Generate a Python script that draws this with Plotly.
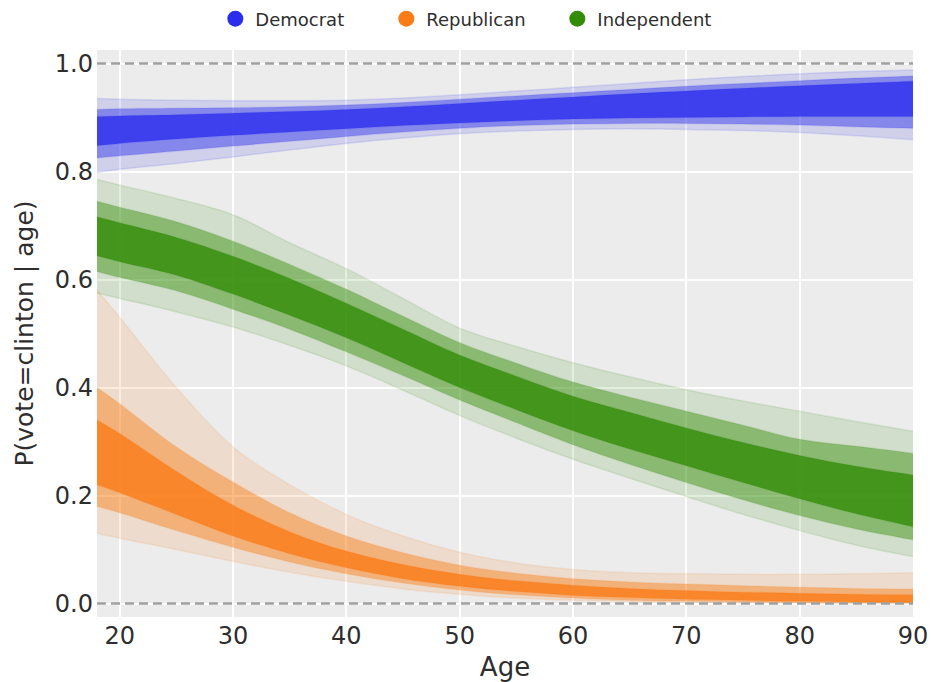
import plotly.graph_objects as go

ages = [18, 20, 25, 30, 35, 40, 45, 50, 55, 60, 65, 70, 75, 80, 85, 90]

# Democrat bands: faint outer envelope, medium band, dense core
dem_outer_lo = [0.798, 0.804, 0.815, 0.827, 0.840, 0.852, 0.862, 0.870, 0.875, 0.878, 0.879, 0.878, 0.876, 0.872, 0.866, 0.859]
dem_mid_lo   = [0.825, 0.829, 0.838, 0.847, 0.856, 0.865, 0.873, 0.880, 0.885, 0.888, 0.889, 0.889, 0.888, 0.886, 0.883, 0.880]
dem_core_lo  = [0.848, 0.852, 0.860, 0.867, 0.873, 0.879, 0.885, 0.890, 0.894, 0.897, 0.899, 0.900, 0.901, 0.902, 0.902, 0.902]
dem_core_hi  = [0.902, 0.903, 0.905, 0.908, 0.911, 0.915, 0.920, 0.926, 0.932, 0.938, 0.944, 0.949, 0.954, 0.959, 0.963, 0.967]
dem_mid_hi   = [0.915, 0.916, 0.917, 0.918, 0.920, 0.923, 0.928, 0.934, 0.940, 0.946, 0.952, 0.958, 0.963, 0.968, 0.973, 0.977]
dem_outer_hi = [0.935, 0.934, 0.932, 0.931, 0.931, 0.932, 0.936, 0.942, 0.949, 0.956, 0.963, 0.970, 0.976, 0.981, 0.985, 0.988]

# Republican bands
rep_outer_lo = [0.130, 0.121, 0.100, 0.078, 0.058, 0.041, 0.027, 0.017, 0.010, 0.006, 0.004, 0.002, 0.001, 0.001, 0.000, 0.000]
rep_mid_lo   = [0.180, 0.168, 0.135, 0.104, 0.077, 0.055, 0.038, 0.025, 0.016, 0.010, 0.006, 0.004, 0.003, 0.002, 0.001, 0.001]
rep_core_lo  = [0.220, 0.205, 0.165, 0.125, 0.092, 0.066, 0.046, 0.032, 0.022, 0.015, 0.011, 0.008, 0.006, 0.004, 0.003, 0.002]
rep_core_hi  = [0.340, 0.315, 0.245, 0.182, 0.133, 0.097, 0.072, 0.054, 0.042, 0.034, 0.028, 0.024, 0.021, 0.019, 0.017, 0.016]
rep_mid_hi   = [0.400, 0.370, 0.290, 0.225, 0.168, 0.125, 0.094, 0.071, 0.056, 0.046, 0.040, 0.036, 0.033, 0.030, 0.028, 0.027]
rep_outer_hi = [0.580, 0.530, 0.400, 0.290, 0.220, 0.165, 0.125, 0.095, 0.075, 0.063, 0.057, 0.055, 0.054, 0.054, 0.055, 0.057]

# Independent bands
ind_outer_lo = [0.575, 0.565, 0.540, 0.512, 0.478, 0.440, 0.395, 0.348, 0.306, 0.267, 0.232, 0.198, 0.165, 0.135, 0.108, 0.087]
ind_mid_lo   = [0.615, 0.604, 0.579, 0.545, 0.508, 0.466, 0.422, 0.377, 0.335, 0.294, 0.258, 0.224, 0.192, 0.163, 0.138, 0.118]
ind_core_lo  = [0.644, 0.633, 0.608, 0.573, 0.534, 0.492, 0.446, 0.400, 0.359, 0.320, 0.286, 0.255, 0.224, 0.194, 0.166, 0.142]
ind_core_hi  = [0.716, 0.705, 0.678, 0.643, 0.602, 0.556, 0.508, 0.460, 0.421, 0.384, 0.354, 0.325, 0.298, 0.274, 0.254, 0.238]
ind_mid_hi   = [0.745, 0.734, 0.707, 0.671, 0.628, 0.582, 0.532, 0.483, 0.445, 0.410, 0.382, 0.356, 0.330, 0.304, 0.291, 0.278]
ind_outer_hi = [0.785, 0.775, 0.750, 0.720, 0.668, 0.620, 0.565, 0.510, 0.476, 0.446, 0.420, 0.396, 0.375, 0.356, 0.337, 0.319]

parties = ["Democrat", "Republican", "Independent"]
colors = {"Democrat": (42, 46, 236), "Republican": (250, 124, 23), "Independent": (50, 140, 6)}
bands = {
    "Democrat": [(dem_outer_lo, dem_outer_hi), (dem_mid_lo, dem_mid_hi), (dem_core_lo, dem_core_hi)],
    "Republican": [(rep_outer_lo, rep_outer_hi), (rep_mid_lo, rep_mid_hi), (rep_core_lo, rep_core_hi)],
    "Independent": [(ind_outer_lo, ind_outer_hi), (ind_mid_lo, ind_mid_hi), (ind_core_lo, ind_core_hi)],
}
x_ticks = [20, 30, 40, 50, 60, 70, 80, 90]
y_ticks = [0.0, 0.2, 0.4, 0.6, 0.8, 1.0]
y_tick_text = ["0.0", "0.2", "0.4", "0.6", "0.8", "1.0"]
ref_levels = [0.0, 1.0]

alphas = [0.14, 0.45, 0.8]

fig = go.Figure()
for p in parties:
    r, g, b = colors[p]
    for (lo, hi), a in zip(bands[p], alphas):
        fig.add_trace(go.Scatter(x=ages, y=lo, mode="lines", line=dict(width=0, shape="spline"),
                                 showlegend=False, hoverinfo="skip"))
        fig.add_trace(go.Scatter(x=ages, y=hi, mode="lines", line=dict(width=0, shape="spline"),
                                 fill="tonexty", fillcolor=f"rgba({r},{g},{b},{a})",
                                 showlegend=False, hoverinfo="skip"))
    # faint individual-looking edge lines
    for lo, hi in bands[p]:
        for arr in (lo, hi):
            fig.add_trace(go.Scatter(x=ages, y=arr, mode="lines",
                                     line=dict(width=1.5, shape="spline", color=f"rgba({r},{g},{b},0.12)"),
                                     showlegend=False, hoverinfo="skip"))

for p in parties:
    r, g, b = colors[p]
    fig.add_trace(go.Scatter(x=[None], y=[None], mode="markers", name=p,
                             marker=dict(size=17, color=f"rgb({r},{g},{b})")))

for lvl in ref_levels:
    fig.add_shape(type="line", xref="paper", x0=0, x1=1, yref="y", y0=lvl, y1=lvl,
                  line=dict(color="#a0a0a0", width=2.5, dash="9px,5px"), layer="above")

font_family = "DejaVu Sans"
fig.update_layout(
    width=932, height=682,
    margin=dict(l=97, r=19, t=50, b=65, autoexpand=False),
    paper_bgcolor="white",
    plot_bgcolor="#ececec",
    font=dict(family=font_family, color="#2e2e2e"),
    showlegend=True,
    legend=dict(orientation="h", traceorder="normal",
                x=0.145, xanchor="left", yref="container", y=1 - 19 / 682, yanchor="middle",
                font=dict(size=18, color="#2e2e2e"), entrywidth=126, entrywidthmode="pixels",
                bgcolor="rgba(0,0,0,0)", itemsizing="trace"),
)
fig.update_xaxes(range=[18, 90], tickvals=x_ticks, showgrid=True, gridcolor="white", gridwidth=1.6,
                 zeroline=False, showline=False, ticks="", tickfont=dict(size=24), automargin=False,
                 ticklabelstandoff=2,
                 title=dict(text="Age", font=dict(size=26), standoff=8))
fig.update_yaxes(range=[-0.025, 1.025], tickvals=y_ticks, ticktext=y_tick_text, showgrid=True,
                 gridcolor="white", gridwidth=1.6, zeroline=False, showline=False, ticks="",
                 tickfont=dict(size=24), automargin=False, ticklabelstandoff=3,
                 title=dict(text="P(vote=clinton | age)", font=dict(size=25), standoff=14))

# remove the default page margin so the 932x682 figure fills the window exactly
fig.write_html("out.html", config={"displayModeBar": False},
               post_script="document.body.style.margin='0';document.body.style.overflow='hidden';")
